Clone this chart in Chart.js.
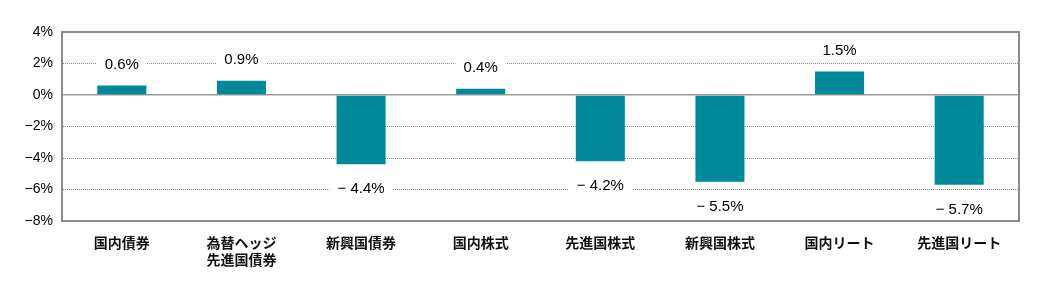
<!DOCTYPE html>
<html>
<head>
<meta charset="utf-8">
<script src="https://cdn.jsdelivr.net/npm/chart.js@4"></script>
<style>
  html, body { margin: 0; padding: 0; background: #ffffff; }
  #wrap { width: 1052px; height: 282px; }
</style>
</head>
<body>
<div id="wrap"><canvas id="returnChart" width="1052" height="282"></canvas></div>
<script>
// カテゴリと騰落率（%）
const categories = [
    ['国内債券'],
    ['為替ヘッジ', '先進国債券'],
    ['新興国債券'],
    ['国内株式'],
    ['先進国株式'],
    ['新興国株式'],
    ['国内リート'],
    ['先進国リート']
];
const returns = [0.6, 0.9, -4.4, 0.4, -4.2, -5.5, 1.5, -5.7];
const yTicks = [4, 2, 0, -2, -4, -6, -8];

const LABEL_FONT = '"Liberation Sans Narrow", "Liberation Sans", Arial, sans-serif';
const CJK_FONT = '"Noto Sans CJK JP", "Noto Sans", sans-serif';

function fmtValue(v) {
    return v < 0 ? '\u2212 ' + Math.abs(v).toFixed(1) + '%' : v.toFixed(1) + '%';
}

// 棒の値ラベル（白背景つき）
const valueLabels = {
    id: 'valueLabels',
    afterDatasetsDraw(chart) {
        const ctx = chart.ctx;
        const yScale = chart.scales.y;
        const meta = chart.getDatasetMeta(0);
        ctx.save();
        ctx.font = '15px ' + LABEL_FONT;
        ctx.textAlign = 'center';
        ctx.textBaseline = 'middle';
        meta.data.forEach((bar, i) => {
            const v = returns[i];
            const text = fmtValue(v);
            const y = v >= 0 ? yScale.getPixelForValue(v) - 22 : yScale.getPixelForValue(v) + 24;
            const w = ctx.measureText(text).width + 16;
            ctx.fillStyle = '#ffffff';
            ctx.fillRect(bar.x - w / 2, y - 10, w, 20);
            ctx.fillStyle = '#000000';
            ctx.fillText(text, bar.x, y + 1);
        });
        ctx.restore();
    }
};

new Chart(document.getElementById('returnChart').getContext('2d'), {
    type: 'bar',
    data: {
        labels: categories,
        datasets: [{
            data: returns,
            backgroundColor: '#00889b',
            barPercentage: 0.41,
            categoryPercentage: 1.0
        }]
    },
    options: {
        responsive: false,
        animation: false,
        devicePixelRatio: 1,
        layout: { padding: { top: 32, right: 33, bottom: 0, left: 0 } },
        plugins: {
            legend: { display: false },
            tooltip: { enabled: false }
        },
        scales: {
            x: {
                grid: { display: false, drawTicks: false },
                border: { color: '#8c8c8c', width: 2 },
                ticks: {
                    color: '#111111',
                    font: { family: CJK_FONT, size: 14, weight: 'bold' },
                    padding: 13,
                    maxRotation: 0,
                    autoSkip: false
                },
                afterFit(scale) { scale.height = 61; }
            },
            y: {
                min: -8,
                max: 4,
                afterBuildTicks(scale) {
                    scale.ticks = yTicks.map(v => ({ value: v }));
                },
                grid: {
                    drawTicks: false,
                    color: ctx => ctx.tick && ctx.tick.value === 0 ? '#999999' : '#8a8a8a',
                    lineWidth: ctx => ctx.tick && ctx.tick.value === 0 ? 1.5 : 1
                },
                border: {
                    color: '#8c8c8c',
                    width: 2,
                    // 0% 以外の目盛線は点線
                    dash: ctx => ctx.tick && ctx.tick.value === 0 ? [] : [1, 1]
                },
                ticks: {
                    color: '#000000',
                    font: { family: LABEL_FONT, size: 14 },
                    padding: 9,
                    callback: v => (v < 0 ? '\u2212' + Math.abs(v) : v) + '%'
                },
                afterFit(scale) { scale.width = 62; }
            }
        }
    },
    plugins: [{
        id: 'frame',
        afterDraw(chart) {
            const a = chart.chartArea;
            const ctx = chart.ctx;
            ctx.save();
            ctx.strokeStyle = '#8c8c8c';
            ctx.lineWidth = 2;
            ctx.strokeRect(a.left, a.top, a.right - a.left, a.bottom - a.top);
            ctx.restore();
        }
    }, valueLabels]
});
</script>
</body>
</html>
